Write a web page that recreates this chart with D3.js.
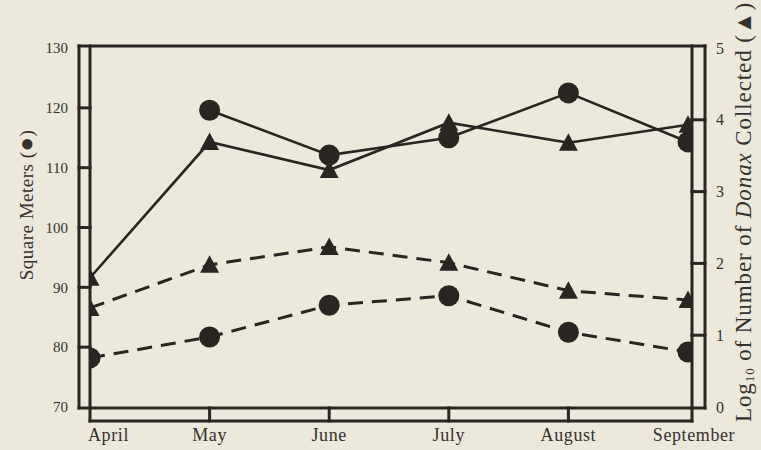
<!DOCTYPE html>
<html>
<head>
<meta charset="utf-8">
<script src="https://cdn.jsdelivr.net/npm/d3@7"></script>
<style>
  html, body { margin: 0; padding: 0; background: #ece8dc; }
  svg { display: block; }
  text { font-family: "Liberation Serif", "DejaVu Serif", serif; fill: #36312c; }
</style>
</head>
<body>
<script>
// Monthly sampling, April–September
const months = ["April", "May", "June", "July", "August", "September"];

// Circles: area sampled, square meters (left axis)
const areaSolid  = [null, 119.6, 112.1, 115.0, 122.5, 114.3];
const areaDashed = [78.2, 81.7, 87.0, 88.6, 82.5, 79.2];

// Triangles: log10 of number of Donax collected (right axis)
const donaxSolid  = [1.80, 3.69, 3.30, 3.96, 3.68, 3.93];
const donaxDashed = [1.38, 1.98, 2.23, 2.01, 1.62, 1.49];

const leftTicks  = [70, 80, 90, 100, 110, 120, 130];
const rightTicks = [0, 1, 2, 3, 4, 5];

const W = 761, H = 450;
const paper = "#ece8dc", ink = "#2a2521";

// frame geometry: double-ruled axes
const L_OUT = 79, L_IN = 90, R_IN = 692, R_OUT = 705;
const TOP = 46, BOT = 408, BOT2 = 421;

const svg = d3.select("body").append("svg")
  .attr("width", W).attr("height", H);

svg.append("rect").attr("width", W).attr("height", H).attr("fill", paper);

const x = d3.scalePoint().domain(months).range([90, 688]);
const yL = d3.scaleLinear().domain([70, 130]).range([407, 48]);
const yR = d3.scaleLinear().domain([0, 5]).range([407, 48]);

function series(values, yScale) {
  return months.map((m, i) => ({ m, v: values[i], y: yScale }));
}

const allSeries = [
  { pts: series(areaSolid, yL),   shape: "circle",   dash: null },
  { pts: series(donaxSolid, yR),  shape: "triangle", dash: null },
  { pts: series(donaxDashed, yR), shape: "triangle", dash: "15,9" },
  { pts: series(areaDashed, yL),  shape: "circle",   dash: "15,9" }
];

const line = d3.line()
  .defined(d => d.v != null)
  .x(d => x(d.m))
  .y(d => d.y(d.v));

const g = svg.append("g");

allSeries.forEach(s => {
  g.append("path")
    .datum(s.pts)
    .attr("d", line)
    .attr("fill", "none")
    .attr("stroke", ink)
    .attr("stroke-width", s.dash ? 3 : 2.6)
    .attr("stroke-dasharray", s.dash)
    .attr("stroke-linecap", "butt");
});

allSeries.forEach(s => {
  const pts = s.pts.filter(d => d.v != null);
  if (s.shape === "circle") {
    g.selectAll(null).data(pts).enter().append("circle")
      .attr("cx", d => x(d.m))
      .attr("cy", d => d.y(d.v))
      .attr("r", 10.5)
      .attr("fill", ink);
  } else {
    g.selectAll(null).data(pts).enter().append("path")
      .attr("d", d => {
        const cx = x(d.m), cy = d.y(d.v);
        return `M${cx},${cy - 9.5}L${cx - 9.5},${cy + 8}L${cx + 9.5},${cy + 8}Z`;
      })
      .attr("fill", ink);
  }
});

// axis bands drawn over the series so markers tuck under them
const frame = svg.append("g")
  .attr("stroke", ink).attr("stroke-width", 3).attr("stroke-linecap", "square");

frame.append("rect").attr("x", L_OUT).attr("y", TOP)
  .attr("width", L_IN - L_OUT).attr("height", BOT - TOP)
  .attr("fill", paper).attr("stroke", "none");
frame.append("rect").attr("x", R_IN).attr("y", TOP)
  .attr("width", R_OUT - R_IN).attr("height", BOT - TOP)
  .attr("fill", paper).attr("stroke", "none");
frame.append("rect").attr("x", L_IN).attr("y", BOT)
  .attr("width", R_IN - L_IN).attr("height", BOT2 - BOT)
  .attr("fill", paper).attr("stroke", "none");

const seg = (x1, y1, x2, y2) =>
  frame.append("line").attr("x1", x1).attr("y1", y1).attr("x2", x2).attr("y2", y2);

seg(L_OUT, TOP, R_OUT, TOP);
seg(L_OUT, TOP, L_OUT, BOT);
seg(R_OUT, TOP, R_OUT, BOT);
seg(L_OUT, BOT, R_OUT, BOT);
seg(L_IN, TOP, L_IN, BOT2);
seg(R_IN, TOP, R_IN, BOT2);
seg(L_IN, BOT2, R_IN, BOT2);

// rungs at the tick positions
leftTicks.slice(1, -1).forEach(t => seg(L_OUT, yL(t), L_IN, yL(t)));
rightTicks.slice(1, -1).forEach(t => seg(R_IN, yR(t), R_OUT, yR(t)));
months.slice(1, -1).forEach(m => seg(x(m), BOT, x(m), BOT2));

// tick labels
svg.append("g").selectAll("text").data(leftTicks).enter().append("text")
  .attr("x", 68).attr("y", d => yL(d))
  .attr("dy", "0.35em")
  .attr("text-anchor", "end")
  .attr("font-size", 15)
  .text(d => d);

svg.append("g").selectAll("text").data(rightTicks).enter().append("text")
  .attr("x", 716).attr("y", d => yR(d))
  .attr("dy", "0.35em")
  .attr("font-size", 16)
  .text(d => d);

svg.append("g").selectAll("text").data(months).enter().append("text")
  .attr("x", (d, i) => x(d) + (i === 0 ? -2 : i === months.length - 1 ? 6 : 0))
  .attr("y", 441)
  .attr("text-anchor", (d, i) => i === 0 ? "start" : "middle")
  .attr("font-size", 18)
  .attr("letter-spacing", 0.6)
  .text(d => d);

// axis titles
const lt = svg.append("text")
  .attr("transform", "translate(33,205) rotate(-90)")
  .attr("text-anchor", "middle")
  .attr("font-size", 19)
  .attr("letter-spacing", 0.5);
lt.append("tspan").text("Square Meters (");
lt.append("tspan").attr("font-size", 24).attr("dy", 1).text("●");
lt.append("tspan").attr("dy", -1).text(")");

const rt = svg.append("text")
  .attr("transform", "translate(751,422) rotate(-90)")
  .attr("font-size", 23)
  .attr("letter-spacing", 0.9);
rt.append("tspan").text("Log");
rt.append("tspan").attr("font-size", 13).attr("dy", 3).text("10");
rt.append("tspan").attr("dy", -3).text(" of Number of ");
rt.append("tspan").attr("font-style", "italic").text("Donax");
rt.append("tspan").text(" Collected (▲)");
</script>
</body>
</html>
